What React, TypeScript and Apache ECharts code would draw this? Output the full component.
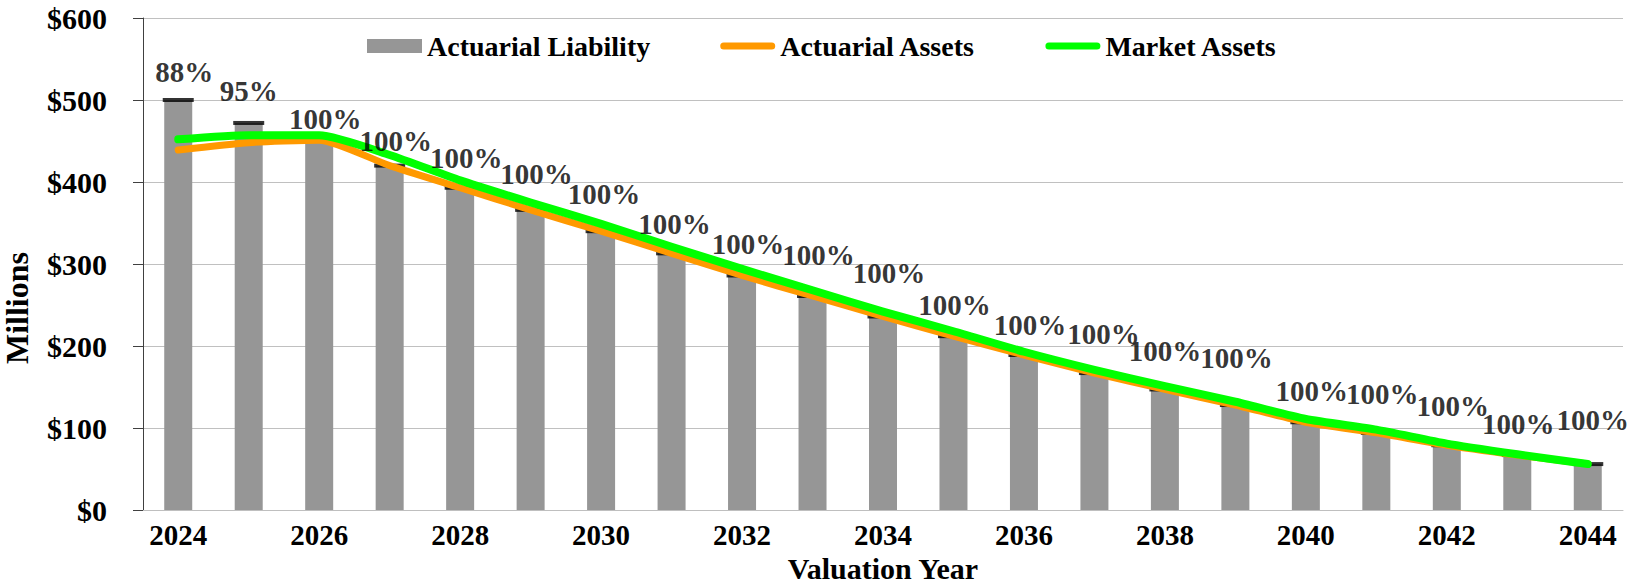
import React, { useEffect, useRef } from "react";
import * as echarts from "echarts";

const years = ["2024","2025","2026","2027","2028","2029","2030","2031","2032","2033","2034","2035","2036","2037","2038","2039","2040","2041","2042","2043","2044"];
const liability = [500, 472, 451, 420, 393, 366, 340, 313, 286, 261, 236, 212, 189, 167, 147, 128, 107, 94, 79, 67, 56];
const actuarialAssets = [439, 448, 451, 420, 393, 366, 340, 313, 286, 261, 236, 212, 189, 167, 147, 128, 107, 94, 79, 67, 56];
const marketAssets = [452, 457, 457, 433, 402, 375, 349, 321, 294, 268, 242, 218, 193, 171, 151, 132, 111, 98, 81, 68, 56];
const fundedRatio = [88, 95, 100, 100, 100, 100, 100, 100, 100, 100, 100, 100, 100, 100, 100, 100, 100, 100, 100, 100, 100];

// label placement (styling, pixels)
const labelDx = [6, 0, 6, 6, 6, 6, 3, 3, 6, 6, 6, 1, 6, 9, 0, 1, 6, 6, 6, 1, 5];
const labelDy = [-28, -32, -21, -25, -30, -36, -37, -29, -31, -41, -43, -31, -30, -39, -38, -47, -31, -39, -39, -31, -44];

const FONT = "'Times New Roman', 'Liberation Serif', 'DejaVu Serif', serif";
const LINE_ICON = "path://M3.5,0 L51.5,0 A3.5,3.5 0 0 1 51.5,7 L3.5,7 A3.5,3.5 0 0 1 3.5,0 Z";

export default function App() {
  const ref = useRef<HTMLDivElement>(null);
  useEffect(() => {
    if (!ref.current) return;
    const chart = echarts.init(ref.current, null, { renderer: "svg" });
    chart.setOption({
      animation: false,
      backgroundColor: "#ffffff",
      textStyle: { fontFamily: FONT },
      grid: { left: 143, right: 6, top: 18, bottom: 71, containLabel: false, outerBoundsMode: "none" },
      legend: {
        data: [
          { name: "Actuarial Liability", icon: "rect" },
          { name: "Actuarial Assets", icon: LINE_ICON },
          { name: "Market Assets", icon: LINE_ICON },
        ],
        left: 362,
        top: 27,
        itemWidth: 55,
        itemHeight: 14,
        itemGap: 70,
        textStyle: { fontFamily: FONT, fontSize: 28, fontWeight: "bold", color: "#000" },
      },
      xAxis: {
        type: "category",
        data: years,
        boundaryGap: true,
        name: "Valuation Year",
        nameLocation: "middle",
        nameGap: 46,
        nameMoveOverlap: false,
        nameTextStyle: { fontFamily: FONT, fontSize: 30, lineHeight: 24, fontWeight: "bold", color: "#000" },
        axisLine: { show: true, lineStyle: { color: "#bfbfbf", width: 1 } },
        axisTick: { show: false },
        axisLabel: { interval: 1, fontFamily: FONT, fontSize: 29, lineHeight: 28, fontWeight: "bold", color: "#000", margin: 11 },
      },
      yAxis: {
        type: "value",
        min: 0,
        max: 600,
        interval: 100,
        name: "Millions",
        nameLocation: "middle",
        nameGap: 110,
        nameRotate: 90,
        nameMoveOverlap: false,
        nameTextStyle: { fontFamily: FONT, fontSize: 32, fontWeight: "bold", color: "#000", padding: [0, 88, 0, 0] },
        axisLine: { show: true, lineStyle: { color: "#404040", width: 1 } },
        axisTick: { show: true, inside: false, length: 10, lineStyle: { color: "#404040" } },
        splitLine: { show: true, lineStyle: { color: "#c0c0c0", width: 1 } },
        axisLabel: { formatter: "${value}", fontFamily: FONT, fontSize: 30, fontWeight: "bold", color: "#000", margin: 36 },
      },
      series: [
        {
          name: "Actuarial Liability",
          type: "bar",
          data: liability,
          barWidth: 28,
          itemStyle: { color: "#969696" },
          z: 2,
        },
        {
          name: "Liability Marker",
          type: "scatter",
          data: liability,
          symbol: "rect",
          symbolSize: [31, 4],
          itemStyle: { color: "#000" },
          z: 2,
          silent: true,
        },
        {
          name: "Actuarial Assets",
          type: "line",
          data: actuarialAssets,
          symbol: "none",
          smooth: 0.2,
          lineStyle: { color: "#ff9900", width: 7, cap: "round", join: "round" },
          itemStyle: { color: "#ff9900" },
          z: 3,
        },
        {
          name: "Market Assets",
          type: "line",
          data: marketAssets,
          symbol: "none",
          smooth: 0.2,
          lineStyle: { color: "#00ff00", width: 8, cap: "round", join: "round" },
          itemStyle: { color: "#00ff00" },
          z: 4,
        },
        {
          name: "Funded Ratio",
          type: "scatter",
          data: liability.map((v, i) => ({
            value: v,
            label: { offset: [labelDx[i], labelDy[i]] },
          })),
          symbolSize: 0,
          itemStyle: { color: "transparent" },
          z: 6,
          silent: true,
          label: {
            show: true,
            position: "inside",
            formatter: (p: any) => fundedRatio[p.dataIndex] + "%",
            fontFamily: FONT,
            fontSize: 29,
            fontWeight: "bold",
            color: "#000",
          },
        },
      ],
    });
    return () => chart.dispose();
  }, []);
  return <div ref={ref} style={{ position: "fixed", left: 0, top: 0, width: 1629, height: 581 }} />;
}
